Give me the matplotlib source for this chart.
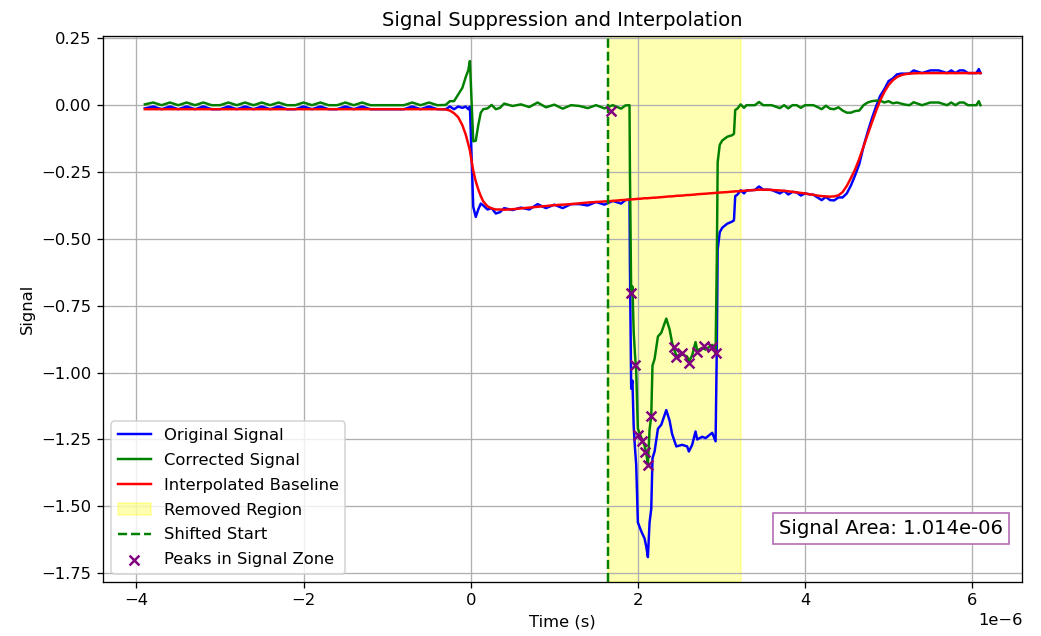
import numpy as np
import matplotlib
matplotlib.use("Agg")
import matplotlib.pyplot as plt

# ---- data (time in microseconds) ----
time_us = [
    -3.9, -3.8, -3.7, -3.6, -3.5, -3.4, -3.3, -3.2, -3.1, -3.0,
    -2.9, -2.8, -2.7, -2.6, -2.5, -2.4, -2.3, -2.2, -2.1, -2.0,
    -1.9, -1.8, -1.7, -1.6, -1.5, -1.4, -1.3, -1.2, -1.1, -1.0,
    -0.9, -0.8, -0.7, -0.6, -0.5, -0.4,
    -0.3, -0.25, -0.2, -0.15, -0.1, -0.06, -0.03, -0.01, 0.0, 0.03,
    0.06, 0.09, 0.12, 0.15, 0.2, 0.25, 0.3,
    0.35, 0.4, 0.5, 0.6, 0.7, 0.8, 0.9, 1.0, 1.1, 1.2,
    1.3, 1.4, 1.5, 1.6, 1.7, 1.8, 1.85, 1.9,
    1.905, 1.92, 1.935, 1.95, 1.965, 1.98, 2.0, 2.03, 2.05, 2.08,
    2.1, 2.12, 2.14, 2.16, 2.175, 2.2, 2.24, 2.28, 2.34, 2.38,
    2.41, 2.46, 2.53, 2.59, 2.61, 2.65, 2.69, 2.71, 2.77, 2.81,
    2.85, 2.89, 2.93, 2.945, 2.955, 2.98, 3.01, 3.07, 3.13, 3.15,
    3.165, 3.19, 3.23,
    3.27, 3.3, 3.35, 3.4, 3.45, 3.5, 3.55, 3.6, 3.7, 3.75,
    3.8, 3.85, 3.9, 3.95, 4.0, 4.05, 4.1, 4.15, 4.2, 4.25,
    4.3, 4.35, 4.4, 4.45, 4.5, 4.55, 4.6, 4.65, 4.7, 4.75,
    4.8, 4.85, 4.9, 4.95, 5.0, 5.05, 5.1, 5.15, 5.2, 5.25,
    5.3, 5.4, 5.5, 5.6, 5.7, 5.75, 5.8, 5.85, 5.9, 5.95,
    6.0, 6.05, 6.08, 6.1,
]

original_signal = [
    -0.012, -0.005, -0.015, -0.005, -0.015, -0.005, -0.015, -0.005, -0.015, -0.015,
    -0.005, -0.015, -0.005, -0.015, -0.005, -0.015, -0.005, -0.015, -0.015, -0.005,
    -0.015, -0.005, -0.015, -0.015, -0.005, -0.015, -0.005, -0.015, -0.015, -0.015,
    -0.015, -0.015, -0.005, -0.015, -0.005, -0.015,
    -0.015, -0.005, -0.015, -0.005, -0.010, -0.005, -0.015, -0.005, -0.100, -0.380,
    -0.418, -0.390, -0.368, -0.375, -0.390, -0.385, -0.405,
    -0.400, -0.385, -0.392, -0.383, -0.390, -0.370, -0.385, -0.372, -0.385, -0.370,
    -0.370, -0.375, -0.362, -0.372, -0.358, -0.368, -0.355, -0.353,
    -0.600, -1.060, -1.030, -1.200, -1.280, -1.345, -1.560, -1.585, -1.600, -1.620,
    -1.650, -1.690, -1.560, -1.510, -1.320, -1.295, -1.210, -1.195, -1.140, -1.180,
    -1.230, -1.276, -1.270, -1.276, -1.295, -1.270, -1.220, -1.250, -1.240, -1.245,
    -1.235, -1.225, -1.257, -0.900, -0.540, -0.475, -0.458, -0.443, -0.435, -0.430,
    -0.340, -0.335, -0.318,
    -0.330, -0.319, -0.318, -0.317, -0.304, -0.316, -0.316, -0.317, -0.330, -0.320,
    -0.334, -0.324, -0.326, -0.338, -0.330, -0.333, -0.335, -0.345, -0.355, -0.343,
    -0.355, -0.356, -0.345, -0.345, -0.330, -0.300, -0.262, -0.220, -0.155, -0.100,
    -0.050, -0.005, 0.035, 0.060, 0.090, 0.100, 0.115, 0.118, 0.118, 0.118,
    0.130, 0.120, 0.130, 0.130, 0.120, 0.130, 0.120, 0.130, 0.130, 0.120,
    0.120, 0.120, 0.135, 0.120,
]

interpolated_baseline = [
    -0.015, -0.015, -0.015, -0.015, -0.015, -0.015, -0.015, -0.015, -0.015, -0.015,
    -0.015, -0.015, -0.015, -0.015, -0.015, -0.015, -0.015, -0.015, -0.015, -0.015,
    -0.015, -0.015, -0.015, -0.015, -0.015, -0.015, -0.015, -0.015, -0.015, -0.015,
    -0.015, -0.015, -0.015, -0.015, -0.015, -0.015,
    -0.016, -0.020, -0.030, -0.045, -0.075, -0.110, -0.145, -0.170, -0.190, -0.245,
    -0.285, -0.315, -0.340, -0.360, -0.378, -0.386, -0.390,
    -0.390, -0.391, -0.389, -0.386, -0.383, -0.380, -0.377, -0.374, -0.372, -0.370,
    -0.367, -0.364, -0.362, -0.360, -0.358, -0.355, -0.354, -0.353,
    -0.353, -0.352, -0.352, -0.352, -0.351, -0.351, -0.350, -0.350, -0.349, -0.348,
    -0.348, -0.348, -0.347, -0.347, -0.346, -0.346, -0.345, -0.344, -0.342, -0.341,
    -0.341, -0.339, -0.338, -0.336, -0.336, -0.335, -0.334, -0.333, -0.332, -0.331,
    -0.330, -0.329, -0.328, -0.328, -0.327, -0.327, -0.326, -0.325, -0.323, -0.323,
    -0.322, -0.322, -0.321,
    -0.320, -0.319, -0.318, -0.317, -0.316, -0.316, -0.316, -0.317, -0.319, -0.320,
    -0.322, -0.324, -0.326, -0.328, -0.330, -0.333, -0.335, -0.338, -0.340, -0.341,
    -0.342, -0.341, -0.337, -0.325, -0.302, -0.272, -0.240, -0.200, -0.155, -0.110,
    -0.065, -0.022, 0.018, 0.050, 0.075, 0.093, 0.105, 0.112, 0.116, 0.118,
    0.119, 0.120, 0.120, 0.120, 0.120, 0.120, 0.120, 0.120, 0.120, 0.120,
    0.120, 0.120, 0.120, 0.120,
]

peak_time_us = [1.68, 1.92, 1.96, 2.00, 2.05, 2.08, 2.12, 2.16,
                2.43, 2.46, 2.53, 2.61, 2.71, 2.79, 2.89, 2.93]
peak_value = [-0.023, -0.704, -0.970, -1.233, -1.257, -1.295, -1.345, -1.164,
              -0.903, -0.940, -0.928, -0.965, -0.922, -0.900, -0.903, -0.925]

removed_start_us = 1.64
removed_end_us = 3.23
signal_area_text = "Signal Area: 1.014e-06"

# ---- build ----
t = np.array(time_us) * 1e-6
orig = np.array(original_signal)
base = np.array(interpolated_baseline)
corrected = orig - base

DPI = 118
fig = plt.figure(figsize=(1041 / DPI, 636 / DPI), dpi=DPI)
ax = fig.add_axes([0.099, 0.085, 0.883, 0.858])

ax.plot(t, orig, color="blue", lw=1.5, label="Original Signal")
ax.plot(t, corrected, color="green", lw=1.5, label="Corrected Signal")
ax.plot(t, base, color="red", lw=1.5, label="Interpolated Baseline")
ax.axvspan(removed_start_us * 1e-6, removed_end_us * 1e-6, color="yellow",
           alpha=0.3, label="Removed Region")
ax.axvline(removed_start_us * 1e-6, color="green", ls="--", lw=1.5,
           label="Shifted Start")
ax.scatter(np.array(peak_time_us) * 1e-6, peak_value, marker="x",
           color="purple", label="Peaks in Signal Zone", zorder=5)

ax.set_title("Signal Suppression and Interpolation")
ax.set_xlabel("Time (s)")
ax.set_ylabel("Signal")
ax.grid(True)
ax.legend(loc="lower left", labelspacing=0.6)
ax.text(0.979, 0.08, signal_area_text, transform=ax.transAxes,
        ha="right", va="bottom", fontsize=12,
        bbox=dict(facecolor="white", edgecolor="#b36bb3", boxstyle="square,pad=0.3"))

fig.savefig("out.png", dpi=DPI)
